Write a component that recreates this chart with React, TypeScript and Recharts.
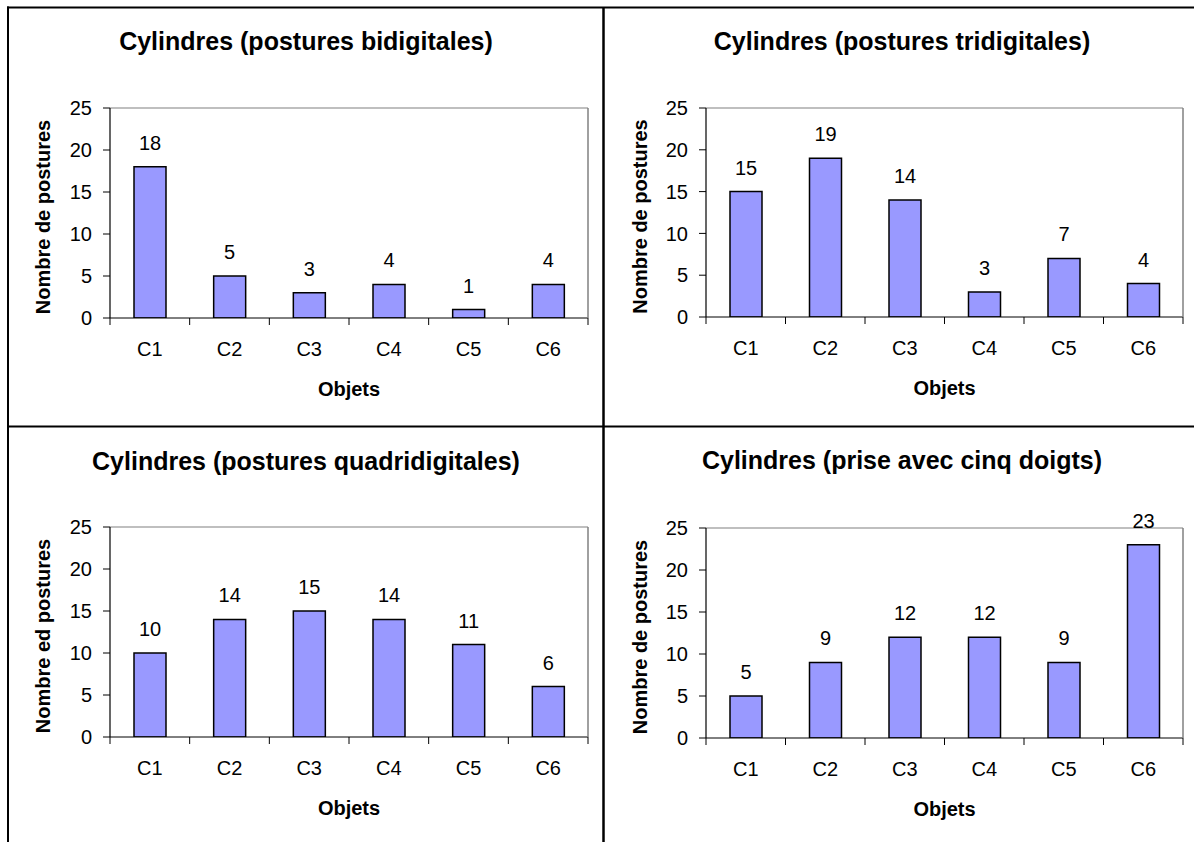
import React from 'react';
import { BarChart, Bar, XAxis, YAxis, ReferenceLine, LabelList } from 'recharts';

const categories = ['C1', 'C2', 'C3', 'C4', 'C5', 'C6'];
const bidigitales = [18, 5, 3, 4, 1, 4];
const tridigitales = [15, 19, 14, 3, 7, 4];
const quadridigitales = [10, 14, 15, 14, 11, 6];
const cinqDoigts = [5, 9, 12, 12, 9, 23];
const yTicks = [0, 5, 10, 15, 20, 25];

const titles = [
  'Cylindres (postures bidigitales)',
  'Cylindres (postures tridigitales)',
  'Cylindres (postures quadridigitales)',
  'Cylindres (prise avec cinq doigts)',
];
const yLabels = ['Nombre de postures', 'Nombre de postures', 'Nombre ed postures', 'Nombre de postures'];
const xLabel = 'Objets';

const FONT = "Arial, 'Liberation Sans', Helvetica, sans-serif";
const BAR_FILL = '#9999FF';
const Y_W = 60;
const YR_W = 1;
const X_H = 1;
const X_TICK_MARGIN = 24;
const X_TICK_LEN = 7;

type Cfg = {
  title: string;
  yLabel: string;
  values: number[];
  left: number;
  top: number;
  width: number;
  height: number;
  plotLeft: number;
  plotRight: number;
  plotTop: number;
  plotBottom: number;
  titleX: number;
  titleY: number;
  yLabelX: number;
};

const panels: Cfg[] = [
  { title: titles[0], yLabel: yLabels[0], values: bidigitales, left: 0, top: 0, width: 603, height: 426,
    plotLeft: 110, plotRight: 588, plotTop: 108, plotBottom: 318, titleX: 306, titleY: 49.5, yLabelX: 43 },
  { title: titles[1], yLabel: yLabels[1], values: tridigitales, left: 603, top: 0, width: 591, height: 426,
    plotLeft: 706, plotRight: 1183, plotTop: 108, plotBottom: 317, titleX: 902, titleY: 49.5, yLabelX: 640 },
  { title: titles[2], yLabel: yLabels[2], values: quadridigitales, left: 0, top: 426, width: 603, height: 416,
    plotLeft: 110, plotRight: 588, plotTop: 527, plotBottom: 737, titleX: 306, titleY: 469.5, yLabelX: 43 },
  { title: titles[3], yLabel: yLabels[3], values: cinqDoigts, left: 603, top: 426, width: 591, height: 416,
    plotLeft: 706, plotRight: 1183, plotTop: 528, plotBottom: 738, titleX: 902, titleY: 468.5, yLabelX: 640 },
];

function Panel({ cfg }: { cfg: Cfg }) {
  const data = categories.map((c, i) => ({ cat: c, value: cfg.values[i] }));
  const margin = {
    top: cfg.plotTop - cfg.top,
    bottom: cfg.top + cfg.height - cfg.plotBottom - X_H,
    left: cfg.plotLeft - cfg.left - Y_W,
    right: cfg.left + cfg.width - cfg.plotRight - YR_W,
  };
  const yLabX = cfg.yLabelX - cfg.left;
  const yLabY = (cfg.plotTop + cfg.plotBottom) / 2 - cfg.top + 4;
  const halfBand = (cfg.plotRight - cfg.plotLeft) / categories.length / 2;

  const YTitle = () => (
    <text
      x={yLabX}
      y={yLabY}
      transform={`rotate(-90, ${yLabX}, ${yLabY})`}
      textAnchor="middle"
      dominantBaseline="central"
      fontWeight="bold"
      fontSize={20}
      fill="#000"
      fontFamily={FONT}
    >
      {cfg.yLabel}
    </text>
  );

  const CatTick = (props: any) => {
    const { x, y, payload, index, visibleTicksCount } = props;
    const y0 = y - X_TICK_MARGIN;
    const hb = halfBand;
    const isLast = index === (visibleTicksCount ?? categories.length) - 1;
    return (
      <g>
        <line x1={x - hb} y1={y0} x2={x - hb} y2={y0 + X_TICK_LEN} stroke="#000" strokeWidth={1} />
        {isLast && <line x1={x + hb} y1={y0} x2={x + hb} y2={y0 + X_TICK_LEN} stroke="#000" strokeWidth={1} />}
        <text x={x} y={y} dy="0.71em" textAnchor="middle" fill="#000" fontSize={20} fontFamily={FONT}>
          {payload.value}
        </text>
      </g>
    );
  };

  return (
    <div style={{ position: 'absolute', left: cfg.left, top: cfg.top }}>
      <BarChart width={cfg.width} height={cfg.height} data={data} margin={margin}>
        <XAxis
          dataKey="cat"
          height={X_H}
          interval={0}
          tickLine={false}
          axisLine={{ stroke: '#000', strokeWidth: 1 }}
          tickSize={0}
          tickMargin={X_TICK_MARGIN}
          tick={<CatTick />}
          label={{ value: xLabel, position: 'bottom', offset: 63, fill: '#000', fontSize: 20, fontWeight: 'bold', fontFamily: FONT }}
        />
        <YAxis
          width={Y_W}
          domain={[0, 25]}
          ticks={yTicks}
          interval={0}
          allowDataOverflow
          tickSize={7}
          tickMargin={11}
          axisLine={{ stroke: '#000', strokeWidth: 1.2 }}
          tickLine={{ stroke: '#000', strokeWidth: 1 }}
          tick={{ fill: '#000', fontSize: 20, fontFamily: FONT }}
          label={<YTitle />}
        />
        <YAxis
          yAxisId="right"
          orientation="right"
          width={YR_W}
          domain={[0, 25]}
          ticks={yTicks}
          allowDataOverflow
          tick={false}
          tickLine={false}
          axisLine={{ stroke: '#808080', strokeWidth: 1.5 }}
        />
        <ReferenceLine y={25} stroke="#808080" strokeWidth={1.2} ifOverflow="visible" />
        <Bar dataKey="value" fill={BAR_FILL} stroke="#000" strokeWidth={1.5} barSize={32} isAnimationActive={false}>
          <LabelList dataKey="value" position="top" offset={17} fill="#000" fontSize={20} fontFamily={FONT} />
        </Bar>
      </BarChart>
    </div>
  );
}

export default function App() {
  return (
    <div
      style={{
        position: 'absolute',
        left: 0,
        top: 0,
        width: 1194,
        height: 842,
        background: '#fff',
        overflow: 'hidden',
        fontFamily: FONT,
      }}
    >
      {panels.map((p, i) => (
        <Panel key={i} cfg={p} />
      ))}
      <svg width={1194} height={842} style={{ position: 'absolute', left: 0, top: 0, pointerEvents: 'none' }}>
        <line x1={8} y1={6.5} x2={8} y2={842} stroke="#000" strokeWidth={2} />
        <line x1={7} y1={7.5} x2={1194} y2={7.5} stroke="#000" strokeWidth={2} />
        <line x1={603.5} y1={7} x2={603.5} y2={842} stroke="#000" strokeWidth={2.5} />
        <line x1={7} y1={426.5} x2={1194} y2={426.5} stroke="#000" strokeWidth={2} />
        {panels.map((p, i) => (
          <text key={i} x={p.titleX} y={p.titleY} textAnchor="middle" fontWeight="bold" fontSize={25} fill="#000" fontFamily={FONT}>
            {p.title}
          </text>
        ))}
      </svg>
    </div>
  );
}
